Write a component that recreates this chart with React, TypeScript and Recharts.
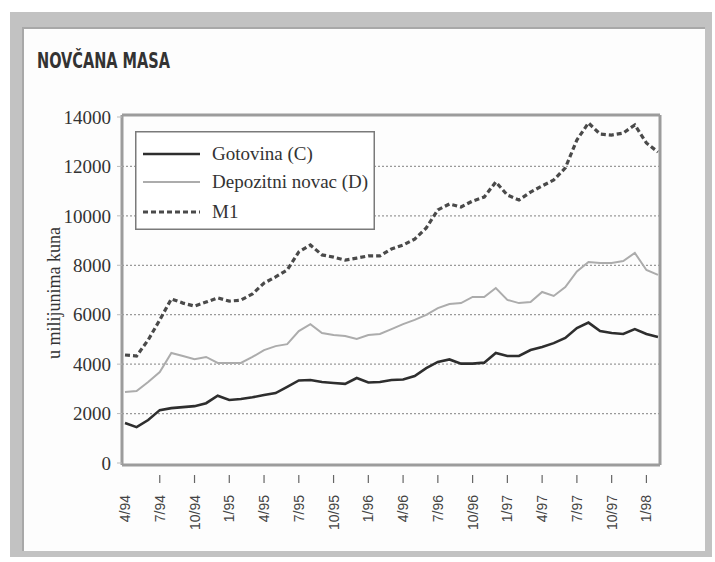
import React from 'react';
import { LineChart, Line, XAxis, YAxis, CartesianGrid, Legend } from 'recharts';

const months = [
  '4/94','5/94','6/94','7/94','8/94','9/94','10/94','11/94','12/94',
  '1/95','2/95','3/95','4/95','5/95','6/95','7/95','8/95','9/95','10/95','11/95','12/95',
  '1/96','2/96','3/96','4/96','5/96','6/96','7/96','8/96','9/96','10/96','11/96','12/96',
  '1/97','2/97','3/97','4/97','5/97','6/97','7/97','8/97','9/97','10/97','11/97','12/97',
  '1/98','2/98',
];

const gotovina = [
  1620, 1450, 1740, 2140, 2220, 2260, 2300, 2420, 2720, 2550, 2590, 2660, 2750, 2830, 3080, 3340,
  3360, 3280, 3240, 3200, 3440, 3260, 3280, 3360, 3380, 3520, 3840, 4090, 4190, 4020, 4020, 4060,
  4450, 4330, 4330, 4570, 4690, 4850, 5060, 5460, 5680, 5340, 5260, 5220, 5420, 5220, 5100,
];

const depozitni = [
  2870, 2910, 3280, 3680, 4450, 4330, 4200, 4290, 4050, 4050, 4050, 4290, 4570, 4730, 4810, 5340,
  5620, 5260, 5180, 5140, 5020, 5180, 5220, 5420, 5620, 5790, 5990, 6270, 6430, 6470, 6720, 6720,
  7080, 6600, 6470, 6510, 6920, 6760, 7120, 7750, 8130, 8090, 8090, 8170, 8500, 7810, 7610,
];

const m1 = [
  4370, 4330, 4980, 5790, 6640, 6470, 6350, 6510, 6680, 6550, 6590, 6840, 7280, 7530, 7810, 8540,
  8820, 8420, 8330, 8210, 8290, 8380, 8380, 8660, 8820, 9060, 9510, 10240, 10480, 10360, 10600, 10760,
  11370, 10840, 10640, 10960, 11210, 11450, 11940, 13070, 13760, 13310, 13270, 13350, 13680, 12950, 12580,
];

const yTicks = [0, 2000, 4000, 6000, 8000, 10000, 12000, 14000];
const gridValues = [2000, 4000, 6000, 8000, 10000, 12000];

const series = [
  { key: 'C', name: 'Gotovina (C)', color: '#2e2e2e', width: 2.6, dash: undefined as string | undefined },
  { key: 'D', name: 'Depozitni novac (D)', color: '#acacac', width: 2, dash: undefined as string | undefined },
  { key: 'M1', name: 'M1', color: '#4a4a4a', width: 3.2, dash: '5 3' },
];

const data = months.map((m, i) => ({ month: m, C: gotovina[i], D: depozitni[i], M1: m1[i] }));

const FRAME = '#9c9c9c';
const SERIF = '"Liberation Serif", "Times New Roman", serif';

const XTick = (props: any) => {
  const { x, y, payload } = props;
  return (
    <g>
      {payload.value !== months[0] && (
        <line x1={x} x2={x} y1={y + 10} y2={y + 18} stroke="#666" strokeWidth={1.2} />
      )}
      <text
        transform={`translate(${x + 5},${y + 30}) rotate(-90)`}
        textAnchor="end"
        fontFamily='"Liberation Sans", Arial, sans-serif'
        fontSize={14}
        fill="#444"
      >
        {payload.value}
      </text>
    </g>
  );
};

const LegendBox = () => (
  <svg width={240} height={99} style={{ display: 'block' }}>
    <rect x={0.75} y={0.75} width={238.5} height={97.5} fill="#fff" stroke="#7a7a7a" strokeWidth={1.5} />
    {series.map((s, i) => {
      const cy = [23, 51, 81][i];
      return (
        <g key={s.key}>
          <line x1={8} x2={65} y1={cy} y2={cy} stroke={s.color} strokeWidth={s.width} strokeDasharray={s.dash} />
          <text x={77} y={cy + 6} fontFamily={SERIF} fontSize={19} fill="#333">
            {s.name}
          </text>
        </g>
      );
    })}
  </svg>
);

export default function App() {
  return (
    <div style={{ position: 'absolute', left: 0, top: 0, width: 715, height: 562, background: '#fff', overflow: 'hidden' }}>
      <div
        style={{
          position: 'absolute',
          left: 10,
          top: 12,
          width: 702,
          height: 545,
          boxSizing: 'border-box',
          borderStyle: 'solid',
          borderColor: '#c2c2c2',
          borderWidth: '15px 7px 6px 12px',
          background: '#fdfdfd',
          boxShadow: 'inset 2px 2px 0 #a8a8a8',
        }}
      />
      <svg width={715} height={562} style={{ position: 'absolute', left: 0, top: 0 }}>
        <text
          x={37}
          y={68}
          textLength={133}
          lengthAdjust="spacingAndGlyphs"
          fontFamily='"DejaVu Sans Condensed", "DejaVu Sans", sans-serif'
          fontWeight="bold"
          fontSize={21}
          fill="#333"
        >
          NOVČANA MASA
        </text>
        <text
          transform="translate(60,293) rotate(-90)"
          textAnchor="middle"
          fontFamily={SERIF}
          fontSize={18}
          fill="#333"
        >
          u milijunima kuna
        </text>
      </svg>
      <div style={{ position: 'absolute', left: 0, top: 0 }}>
        <LineChart width={715} height={562} data={data} margin={{ top: 114, right: 54, bottom: 7, left: 62 }}>
          <CartesianGrid
            vertical={false}
            horizontalValues={gridValues}
            stroke="#9a9a9a"
            strokeDasharray="2 2"
            strokeWidth={1.3}
          />
          <XAxis
            dataKey="month"
            interval={2}
            height={90}
            tick={<XTick />}
            tickLine={false}
            tickSize={0}
            tickMargin={0}
            axisLine={{ stroke: FRAME, strokeWidth: 3 }}
            padding={{ left: 3, right: 2 }}
          />
          <XAxis
            xAxisId="top"
            orientation="top"
            dataKey="month"
            height={1}
            tick={false}
            tickLine={false}
            axisLine={{ stroke: FRAME, strokeWidth: 3 }}
            padding={{ left: 3, right: 2 }}
          />
          <YAxis
            width={60}
            domain={[0, 14000]}
            ticks={yTicks}
            interval={0}
            tick={{ fontFamily: SERIF, fontSize: 19, fill: '#333' }}
            tickLine={{ stroke: '#bbb' }}
            tickSize={5}
            tickMargin={6}
            axisLine={{ stroke: FRAME, strokeWidth: 3 }}
            padding={{ top: 2, bottom: 2 }}
          />
          <YAxis
            yAxisId="right"
            orientation="right"
            width={1}
            domain={[0, 14000]}
            tick={false}
            tickLine={false}
            axisLine={{ stroke: FRAME, strokeWidth: 3 }}
          />
          <Legend
            layout="vertical"
            align="center"
            verticalAlign="middle"
            content={() => <LegendBox />}
            wrapperStyle={{ left: 135, top: 131, width: 240, height: 99 }}
          />
          {series.map((s) => (
            <Line
              key={s.key}
              dataKey={s.key}
              name={s.name}
              type="linear"
              stroke={s.color}
              strokeWidth={s.width}
              strokeDasharray={s.dash}
              dot={false}
              activeDot={false}
              isAnimationActive={false}
            />
          ))}
        </LineChart>
      </div>
    </div>
  );
}
